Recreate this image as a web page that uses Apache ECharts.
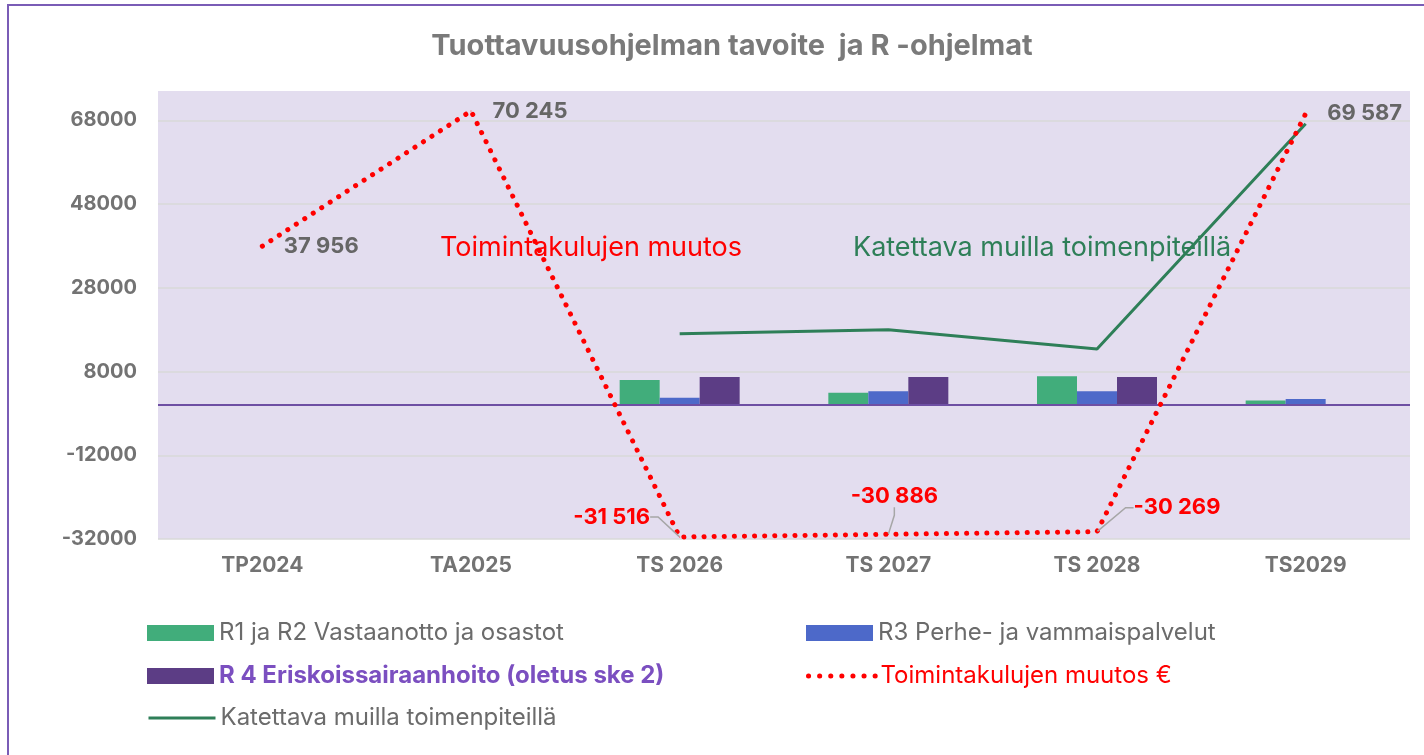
<!DOCTYPE html>
<html>
<head>
<meta charset="utf-8">
<script src="https://cdn.jsdelivr.net/npm/echarts@6/dist/echarts.min.js"></script>
<style>
  html, body { margin: 0; padding: 0; background: #fff; }
  #container { width: 1424px; height: 755px; }
</style>
</head>
<body>
<div id="container"></div>
<script>
// data
var categories = ['TP2024', 'TA2025', 'TS 2026', 'TS 2027', 'TS 2028', 'TS2029'];
var r12 = [null, null, 6000, 2950, 6850, 1050];
var r3 = [null, null, 1750, 3300, 3300, 1450];
var r4 = [null, null, 6700, 6700, 6700, null];
var muutos = [37956, 70245, -31516, -30886, -30269, 69587];
var katettava = [null, null, 17000, 18000, 13400, 67200];
var yTicks = [-32000, -12000, 8000, 28000, 48000, 68000];

var names = {
  r12: 'R1 ja R2 Vastaanotto ja osastot',
  r3: 'R3 Perhe- ja vammaispalvelut',
  r4: 'R 4 Eriskoissairaanhoito (oletus ske 2)',
  muutos: 'Toimintakulujen muutos €',
  katettava: 'Katettava muilla toimenpiteillä'
};

var FONT = 'Inter';
var GRAY = '#737373';

function fmt(v) {
  var s = String(Math.abs(v)).replace(/\B(?=(\d{3})+(?!\d))/g, ' ');
  return (v < 0 ? '-' : '') + s;
}

// label placement per point of the red line (style only)
var labelPlace = [
  { pos: 'right', color: '#666666' },
  { pos: 'right', color: '#666666' },
  { pos: 'inside', color: '#ff0000', dx: -68, dy: -20 },
  { pos: 'inside', color: '#ff0000', dx: 6, dy: -38 },
  { pos: 'inside', color: '#ff0000', dx: 80, dy: -24 },
  { pos: 'right', color: '#666666' }
];

var muutosData = muutos.map(function (v, i) {
  var p = labelPlace[i];
  return {
    value: v,
    label: { position: p.pos, color: p.color, distance: 21 },
    labelLine: { show: p.pos === 'inside' }
  };
});

// only every 20th split line visible (axis counts ticks of 1000 from min)
var gridColors = ['#d9d9d9'];
for (var k = 1; k < 20; k++) gridColors.push('rgba(0,0,0,0)');

var dom = document.getElementById('container');
var myChart = echarts.init(dom);

function legendItem(name, left, centerY, textStyle, extra) {
  var l = {
    left: left,
    top: centerY - 12,
    padding: 0,
    data: [name],
    itemWidth: 67,
    itemHeight: 16,
    selectedMode: false,
    textStyle: Object.assign({ fontFamily: FONT, fontSize: 24, color: '#6b6b6b' }, textStyle)
  };
  return Object.assign(l, extra || {});
}

var option = {
  backgroundColor: '#ffffff',
  animation: false,
  title: {
    text: 'Tuottavuusohjelman tavoite  ja R -ohjelmat',
    left: 727,
    textAlign: 'center',
    top: 27,
    textStyle: { fontFamily: FONT, fontSize: 29, fontWeight: 'bold', color: '#7a7a7a' }
  },
  legend: [
    legendItem(names.r12, 147, 633, {}, { icon: 'rect' }),
    legendItem(names.r3, 806, 633, {}, { icon: 'rect' }),
    legendItem(names.r4, 147, 676, { fontWeight: 'bold', color: '#7b4fc0' }, { icon: 'rect' }),
    legendItem(names.muutos, 806, 676, { color: '#ff0000' }, {
      itemStyle: { opacity: 0 },
      lineStyle: { color: '#ff0000', width: 5, type: [0.1, 11], cap: 'round' }
    }),
    legendItem(names.katettava, 147, 718, {}, {
      itemStyle: { opacity: 0 },
      lineStyle: { color: '#2e7f58', width: 3 }
    })
  ],
  grid: {
    left: 158,
    right: 14,
    top: 91,
    bottom: 216,
    show: true,
    backgroundColor: '#e3ddef',
    borderWidth: 0
  },
  xAxis: {
    type: 'category',
    data: categories,
    axisLine: { show: false, onZero: false },
    axisTick: { show: false },
    axisLabel: { fontFamily: FONT, fontSize: 21, fontWeight: 'bold', color: GRAY, margin: 16 }
  },
  yAxis: {
    type: 'value',
    min: -32000,
    max: 75000,
    interval: 1000,
    axisLine: { show: false },
    axisTick: { show: false },
    axisLabel: {
      fontFamily: FONT, fontSize: 20, fontWeight: 'bold', color: GRAY, margin: 21,
      formatter: function (v) { return yTicks.indexOf(v) > -1 ? String(v) : ''; }
    },
    splitLine: { show: true, lineStyle: { color: gridColors, width: 1.5 } }
  },
  graphic: [
    {
      type: 'rect',
      shape: { x: 8, y: 5, width: 1500, height: 800 },
      style: { fill: 'none', stroke: '#7a5cb6', lineWidth: 2 },
      silent: true
    },
    {
      type: 'text',
      left: 440,
      top: 234,
      style: { text: 'Toimintakulujen muutos', fill: '#ff0000', font: '27px Inter' }
    },
    {
      type: 'text',
      left: 853,
      top: 234,
      style: { text: 'Katettava muilla toimenpiteillä', fill: '#2e7f58', font: '27px Inter' }
    }
  ],
  series: [
    {
      name: names.r12,
      type: 'bar',
      data: r12,
      barWidth: 40,
      barGap: '0%',
      itemStyle: { color: '#41ad7b' },
      markLine: {
        silent: true,
        symbol: ['none', 'none'],
        label: { show: false },
        lineStyle: { color: '#6e4fa3', width: 2, type: 'solid' },
        data: [{ yAxis: 0 }]
      }
    },
    {
      name: names.r3,
      type: 'bar',
      data: r3,
      barWidth: 40,
      barGap: '0%',
      itemStyle: { color: '#4d69c9' }
    },
    {
      name: names.r4,
      type: 'bar',
      data: r4,
      barWidth: 40,
      barGap: '0%',
      itemStyle: { color: '#5c3d85' }
    },
    {
      name: names.katettava,
      type: 'line',
      data: katettava,
      symbol: 'none',
      lineStyle: { color: '#2e7f58', width: 3 },
      itemStyle: { color: '#2e7f58' }
    },
    {
      name: names.muutos,
      type: 'line',
      data: muutosData,
      symbol: 'circle',
      symbolSize: 1,
      itemStyle: { color: '#ff0000' },
      lineStyle: { color: '#ff0000', width: 5, type: [0.1, 10], cap: 'round' },
      label: {
        show: true,
        fontFamily: FONT,
        fontSize: 22,
        fontWeight: 'bold',
        formatter: function (p) { return fmt(p.value); }
      },
      labelLine: { lineStyle: { color: '#a6a6a6', width: 1.5 }, length2: 8 },
      labelLayout: function (params) {
        var p = labelPlace[params.dataIndex];
        if (p && p.dx !== undefined) {
          return { dx: p.dx, dy: p.dy };
        }
        return {};
      },
      z: 5
    }
  ]
};

myChart.setOption(option);
</script>
</body>
</html>
